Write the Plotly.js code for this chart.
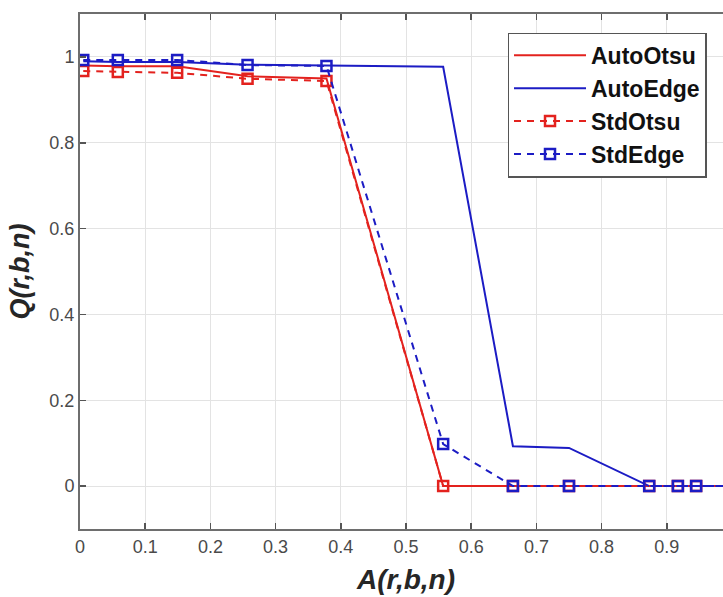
<!DOCTYPE html>
<html>
<head>
<meta charset="utf-8">
<script src="https://cdn.plot.ly/plotly-3.0.1.min.js"></script>
<style>
html,body{margin:0;padding:0;overflow:hidden;background:#fff;width:723px;height:597px;}
#chart{width:760px;height:597px;}
</style>
</head>
<body>
<div id="chart"></div>
<script>
// x positions (A(r,b,n))
var xVals = [0.005, 0.058, 0.149, 0.257, 0.378, 0.557, 0.664, 0.750, 0.873, 0.917, 0.945, 1.0];
// series values (Q(r,b,n))
var autoOtsu = [0.980, 0.978, 0.978, 0.955, 0.950, 0, 0, 0, 0, 0, 0, 0];
var autoEdge = [0.990, 0.988, 0.988, 0.982, 0.980, 0.977, 0.093, 0.089, 0, 0, 0, 0];
var stdOtsu  = [0.967, 0.965, 0.963, 0.949, 0.944, 0, 0, 0, 0, 0, 0, 0];
var stdEdge  = [0.993, 0.993, 0.993, 0.981, 0.979, 0.098, 0, 0, 0, 0, 0, 0];
var seriesNames = ["AutoOtsu", "AutoEdge", "StdOtsu", "StdEdge"];
var xTicks = [0, 0.1, 0.2, 0.3, 0.4, 0.5, 0.6, 0.7, 0.8, 0.9];
var xTickText = ["0", "0.1", "0.2", "0.3", "0.4", "0.5", "0.6", "0.7", "0.8", "0.9"];
var yTicks = [0, 0.2, 0.4, 0.6, 0.8, 1];
var yTickText = ["0", "0.2", "0.4", "0.6", "0.8", "1"];

var RED = "#e3221e", BLUE = "#1c1cc4";

var traces = [
  {x: xVals, y: autoOtsu, name: seriesNames[0], mode: "lines",
   line: {color: RED, width: 2}},
  {x: xVals, y: autoEdge, name: seriesNames[1], mode: "lines",
   line: {color: BLUE, width: 2}},
  {x: xVals, y: stdOtsu, name: seriesNames[2], mode: "lines+markers",
   line: {color: RED, width: 2, dash: "7px,6px"},
   marker: {symbol: "square-open", size: 10, color: RED, line: {width: 2.5, color: RED}}},
  {x: xVals, y: stdEdge, name: seriesNames[3], mode: "lines+markers",
   line: {color: BLUE, width: 2, dash: "7px,6px"},
   marker: {symbol: "square-open", size: 10, color: BLUE, line: {width: 2.5, color: BLUE}}}
];

var axisCommon = {
  showgrid: true, gridcolor: "#e3e3e3", gridwidth: 1,
  zeroline: false, showline: true, linecolor: "#6e6e6e", linewidth: 2,
  mirror: "ticks", ticks: "inside", ticklen: 6, tickwidth: 1.5, tickcolor: "#555",
  tickfont: {family: "Liberation Sans, Arial, sans-serif", size: 18, color: "#4a4a4a"}
};

var layout = {
  width: 760, height: 597,
  margin: {l: 80, r: 28, t: 14, b: 68},
  paper_bgcolor: "#fff", plot_bgcolor: "#fff",
  showlegend: true,
  xaxis: Object.assign({}, axisCommon, {
    range: [0, 1], tickvals: xTicks, ticktext: xTickText,
    title: {text: "<b><i>A(r,b,n)</i></b>", standoff: 14,
      font: {family: "Liberation Sans, Arial, sans-serif", size: 28, color: "#262626"}}
  }),
  yaxis: Object.assign({}, axisCommon, {
    range: [-0.1, 1.1], tickvals: yTicks, ticktext: yTickText,
    title: {text: "<b><i>Q(r,b,n)</i></b>", standoff: 12,
      font: {family: "Liberation Sans, Arial, sans-serif", size: 27, color: "#262626"}}
  }),
  legend: {
    x: 0.656, y: 0.964, xanchor: "left", yanchor: "top",
    bgcolor: "#fff", bordercolor: "#555", borderwidth: 1.3,
    font: {family: "Liberation Sans, Arial, sans-serif", size: 23, color: "#111"},
    itemwidth: 72, tracegroupgap: 0
  }
};

// bold legend labels
traces.forEach(function(t){ t.name = "<b>" + t.name + "</b>"; });

Plotly.newPlot("chart", traces, layout, {displayModeBar: false, staticPlot: true});
</script>
</body>
</html>
